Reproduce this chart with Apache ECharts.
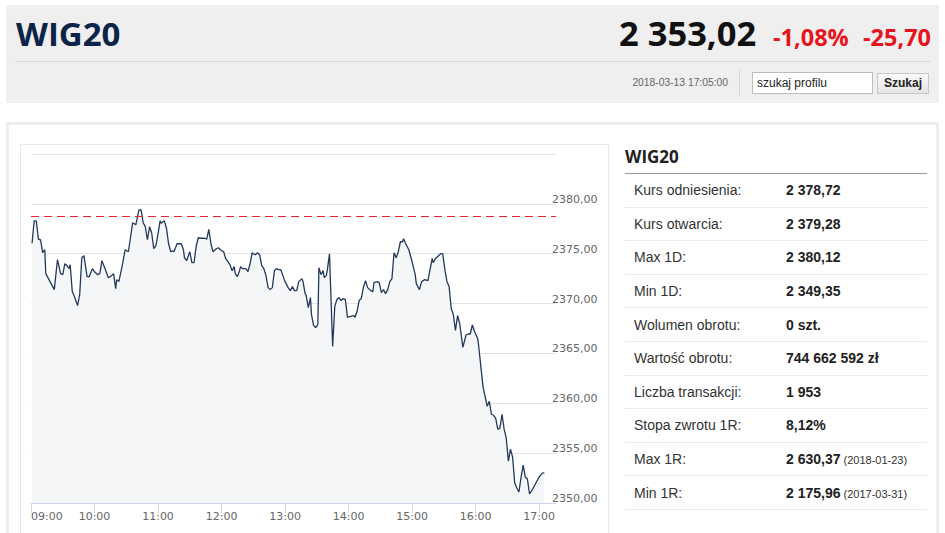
<!DOCTYPE html>
<html>
<head>
<meta charset="utf-8">
<script src="https://cdn.jsdelivr.net/npm/echarts@6/dist/echarts.min.js"></script>
<style>
  html, body { margin: 0; padding: 0; }
  body { width: 945px; height: 533px; overflow: hidden; background: #fff; position: relative; font-family: Arial, "Liberation Sans", sans-serif; }
  .abs { position: absolute; }
  #header { left: 6px; top: 5px; width: 933px; height: 98px; background: #efefef; }
  .os { font-family: "Open Sans", Arial, sans-serif; font-weight: 700; white-space: nowrap; line-height: 1; }
  #title { left: 16px; top: 17px; font-size: 33px; color: #0b2447; }
  #price { left: 619px; top: 16px; font-size: 34.5px; color: #111; }
  #pct { left: 773px; top: 25.5px; font-size: 23.5px; color: #e8141c; }
  #chg { left: 863px; top: 25.5px; font-size: 23.5px; color: #e8141c; }
  #sep1 { left: 15px; top: 61px; width: 915px; height: 1px; background: #d6d6d6; }
  #date { left: 600px; width: 128px; text-align: right; top: 77px; font-size: 10.3px; line-height: 12px; color: #666; white-space: nowrap; }
  #vsep { left: 739px; top: 70px; width: 1px; height: 26px; background: #d8d8d8; }
  #search { left: 752px; top: 72px; width: 115px; height: 20px; border: 1px solid #bdbdbd; background: #fff; font-size: 12px; line-height: 20px; color: #222; padding-left: 4px; white-space: nowrap; }
  #btn { left: 877px; top: 73px; width: 50px; height: 19px; border: 1px solid #c8c8c8; background: linear-gradient(#fbfbfb, #e4e4e4); font-size: 12px; font-weight: bold; line-height: 19px; text-align: center; color: #222; }
  #outer { left: 6px; top: 122px; width: 927px; height: 430px; border: 3px solid #eeeeee; background: #fff; }
  #chartpanel { left: 20px; top: 144px; width: 587px; height: 400px; border: 1px solid #e8e8e8; background: #fff; }
  #ttitle { left: 625px; top: 148px; font-size: 17px; color: #222; }
  #tline { left: 625px; top: 173px; width: 302px; height: 1px; background: #999; }
  .row { position: absolute; left: 625px; width: 302px; border-bottom: 1px solid #ebebeb; }
  .row .lab { position: absolute; left: 9px; font-size: 14px; color: #333; white-space: nowrap; }
  .row .val { position: absolute; left: 161px; font-size: 14px; font-weight: bold; color: #222; white-space: nowrap; }
  .row .note { font-size: 11px; font-weight: normal; color: #333; }
  #chart { left: 0; top: 0; width: 945px; height: 533px; }
</style>
</head>
<body>
<div id="header" class="abs"></div>
<div id="title" class="abs os">WIG20</div>
<div id="price" class="abs os">2 353,02</div>
<div id="pct" class="abs os">-1,08%</div>
<div id="chg" class="abs os">-25,70</div>
<div id="sep1" class="abs"></div>
<div id="date" class="abs">2018-03-13 17:05:00</div>
<div id="vsep" class="abs"></div>
<div id="search" class="abs">szukaj profilu</div>
<div id="btn" class="abs">Szukaj</div>
<div id="outer" class="abs"></div>
<div id="chartpanel" class="abs"></div>
<div id="ttitle" class="abs os">WIG20</div>
<div id="tline" class="abs"></div>
<div id="table"></div>
<div id="chart" class="abs"></div>
<script>
// ---- chart data ----
const times = [
  '09:01','09:03','09:05','09:07','09:09','09:11','09:13','09:14','09:18','09:22',
  '09:25','09:28','09:30','09:32','09:34','09:36','09:37','09:39','09:41','09:44',
  '09:46','09:48','09:50','09:53','09:55','09:58','10:00','10:03','10:05','10:07',
  '10:10','10:13','10:15','10:18','10:20','10:21','10:23','10:26','10:29','10:32',
  '10:33','10:36','10:39','10:42','10:44','10:46','10:48','10:50','10:52','10:54',
  '10:56','10:58','11:00','11:02','11:03','11:06','11:08','11:10','11:12','11:14',
  '11:15','11:18','11:20','11:22','11:24','11:25','11:27','11:30','11:32','11:34',
  '11:36','11:38','11:41','11:44','11:46','11:48','11:50','11:52','11:55','11:57',
  '11:59','12:02','12:04','12:06','12:08','12:10','12:12','12:13','12:15','12:17',
  '12:18','12:20','12:23','12:25','12:27','12:29','12:30','12:32','12:34','12:36',
  '12:38','12:40','12:42','12:44','12:46','12:48','12:50','12:52','12:54','12:56',
  '12:58','13:00','13:03','13:05','13:07','13:09','13:11','13:13','13:16','13:17',
  '13:19','13:20','13:22','13:24','13:25','13:27','13:29','13:31','13:32','13:34',
  '13:36','13:37','13:39','13:40','13:42','13:45','13:47','13:49','13:51','13:53',
  '13:55','13:57','13:59','14:01','14:05','14:06','14:08','14:10','14:12','14:14',
  '14:16','14:18','14:21','14:23','14:24','14:27','14:29','14:31','14:33','14:35',
  '14:37','14:39','14:41','14:43','14:45','14:47','14:49','14:51','14:52','14:54',
  '14:57','15:00','15:03','15:04','15:07','15:09','15:12','15:15','15:19','15:20',
  '15:22','15:25','15:27','15:29','15:31','15:33','15:35','15:37','15:39','15:41',
  '15:43','15:45','15:48','15:51','15:53','15:55','15:57','15:59','16:02','16:03',
  '16:05','16:07','16:09','16:11','16:13','16:15','16:17','16:19','16:21','16:23',
  '16:25','16:27','16:29','16:31','16:33','16:35','16:37','16:39','16:41','16:43',
  '16:45','16:47','16:49','16:51','16:54','16:57','17:00','17:03','17:05'
];
const values = [
  2376.05,2378.3,2378.3,2376.45,2376.4,2375.1,2375.4,2373.0,2372.2,2371.4,
  2374.4,2373.0,2372.9,2374.0,2373.8,2373.5,2373.9,2371.2,2370.7,2369.8,
  2370.9,2374.6,2374.8,2372.7,2372.7,2373.5,2373.2,2372.9,2373.0,2374.3,
  2373.5,2372.6,2372.7,2373.0,2371.5,2372.4,2372.2,2373.7,2375.4,2375.2,
  2375.9,2378.1,2377.9,2379.4,2379.4,2378.1,2377.7,2376.4,2377.7,2377.1,
  2375.5,2375.8,2377.0,2378.3,2378.05,2378.3,2377.55,2376.0,2375.2,2375.3,
  2375.2,2376.0,2376.0,2376.0,2375.4,2374.6,2374.3,2375.2,2374.1,2374.1,
  2375.7,2376.6,2376.55,2376.55,2376.45,2377.45,2376.0,2375.2,2375.5,2375.6,
  2375.4,2375.2,2374.5,2374.2,2373.9,2373.3,2373.7,2373.0,2372.7,2373.3,
  2373.7,2373.5,2373.5,2373.2,2374.0,2375.1,2375.0,2374.9,2375.1,2374.9,
  2373.8,2373.5,2372.8,2371.6,2371.4,2371.6,2373.3,2373.5,2373.4,2373.4,
  2372.8,2372.2,2371.6,2371.3,2371.7,2371.3,2371.3,2372.2,2372.5,2372.2,
  2371.0,2370.8,2369.6,2370.6,2368.9,2367.8,2367.6,2367.9,2373.6,2372.9,
  2373.3,2372.6,2372.8,2373.4,2375.0,2365.7,2369.7,2370.4,2370.6,2370.3,
  2370.5,2370.4,2368.6,2368.7,2368.8,2368.6,2369.2,2370.3,2370.5,2371.6,
  2372.3,2371.6,2371.3,2371.2,2372.1,2372.2,2372.1,2371.1,2371.4,2371.0,
  2371.4,2372.2,2372.5,2375.1,2374.6,2375.2,2376.2,2376.2,2376.5,2376.0,
  2375.4,2374.2,2372.9,2372.0,2371.4,2372.2,2372.4,2372.3,2374.5,2374.1,
  2374.5,2374.8,2375.0,2375.0,2373.4,2372.2,2371.7,2369.5,2368.9,2367.3,
  2368.8,2368.0,2365.6,2366.85,2366.95,2366.95,2367.85,2367.2,2366.5,2365.7,
  2363.7,2361.7,2360.7,2359.7,2360.2,2358.9,2358.8,2358.5,2357.4,2357.5,
  2358.9,2357.4,2356.5,2354.2,2355.4,2354.6,2352.0,2351.5,2351.1,2352.6,
  2353.8,2352.6,2352.4,2350.9,2351.4,2352.0,2352.6,2353.0,2353.02
];
const referenceLevel = 2378.72;
const xTickLabels = ['09:00','10:00','11:00','12:00','13:00','14:00','15:00','16:00','17:00'];
const xAxisEnd = '17:16';
const yMin = 2350, yMax = 2385, yStep = 5;

// ---- side table data ----
const tableLabels = ['Kurs odniesienia:','Kurs otwarcia:','Max 1D:','Min 1D:','Wolumen obrotu:','Wartość obrotu:','Liczba transakcji:','Stopa zwrotu 1R:','Max 1R:','Min 1R:'];
const tableValues = ['2 378,72','2 379,28','2 380,12','2 349,35','0 szt.','744 662 592 zł','1 953','8,12%','2 630,37','2 175,96'];
const tableNotes = ['','','','','','','','','(2018-01-23)','(2017-03-31)'];

// build table
(function () {
  const t = document.getElementById('table');
  const rowTop = 174, rowH = 33.6;
  tableLabels.forEach((lab, i) => {
    const r = document.createElement('div');
    r.className = 'row';
    r.style.top = (rowTop + i * rowH) + 'px';
    r.style.height = (rowH - 1) + 'px';
    const textTop = (rowH - 1 - 16) / 2;
    const a = document.createElement('div');
    a.className = 'lab'; a.style.top = textTop + 'px'; a.style.lineHeight = '16px';
    a.textContent = lab;
    const b = document.createElement('div');
    b.className = 'val'; b.style.top = textTop + 'px'; b.style.lineHeight = '16px';
    b.textContent = tableValues[i];
    if (tableNotes[i]) {
      const n = document.createElement('span');
      n.className = 'note';
      n.textContent = ' ' + tableNotes[i];
      b.appendChild(n);
    }
    r.appendChild(a); r.appendChild(b);
    t.appendChild(r);
  });
})();

const toMin = s => { const p = s.split(':'); return (+p[0]) * 60 + (+p[1]); };
const pad = n => (n < 10 ? '0' : '') + n;
const fmtTime = v => pad(Math.floor(v / 60)) + ':' + pad(v % 60);
const tickMins = xTickLabels.map(toMin);
const seriesData = times.map((t, i) => [toMin(t), values[i]]);

const chart = echarts.init(document.getElementById('chart'), null, { renderer: 'svg' });
chart.setOption({
  backgroundColor: 'transparent',
  animation: false,
  grid: { left: 31, right: 389, top: 154, bottom: 30, containLabel: false },
  xAxis: {
    type: 'value',
    min: tickMins[0],
    max: toMin(xAxisEnd),
    interval: 60,
    axisLine: { show: true, lineStyle: { color: '#ccd6eb', width: 1 } },
    axisTick: { show: true, length: 10, lineStyle: { color: '#ccd6eb' }, customValues: tickMins },
    axisLabel: {
      customValues: tickMins,
      formatter: v => fmtTime(v),
      alignMinLabel: 'left',
      margin: 8,
      color: '#666',
      fontSize: 11,
      fontFamily: 'DejaVu Sans'
    },
    splitLine: { show: false }
  },
  yAxis: {
    type: 'value',
    position: 'right',
    min: yMin,
    max: yMax,
    interval: yStep,
    offset: -4,
    axisLine: { show: false },
    axisTick: { show: false },
    axisLabel: {
      margin: 0,
      verticalAlign: 'bottom',
      padding: [0, 0, -1, 0],
      showMaxLabel: false,
      formatter: v => v.toFixed(2).replace('.', ','),
      color: '#666',
      fontSize: 11,
      fontFamily: 'DejaVu Sans'
    },
    splitLine: { show: true, lineStyle: { color: '#e3e3e3', width: 1 } }
  },
  series: [{
    type: 'line',
    data: seriesData,
    showSymbol: false,
    smooth: false,
    lineStyle: { color: '#22395c', width: 1.3 },
    areaStyle: { color: '#f5f6f8', opacity: 1, origin: 'start' },
    markLine: {
      silent: true,
      symbol: ['none', 'none'],
      label: { show: false },
      lineStyle: { color: '#e8262b', type: [8, 5], width: 1 },
      data: [{ yAxis: referenceLevel }]
    }
  }]
});
</script>
</body>
</html>
